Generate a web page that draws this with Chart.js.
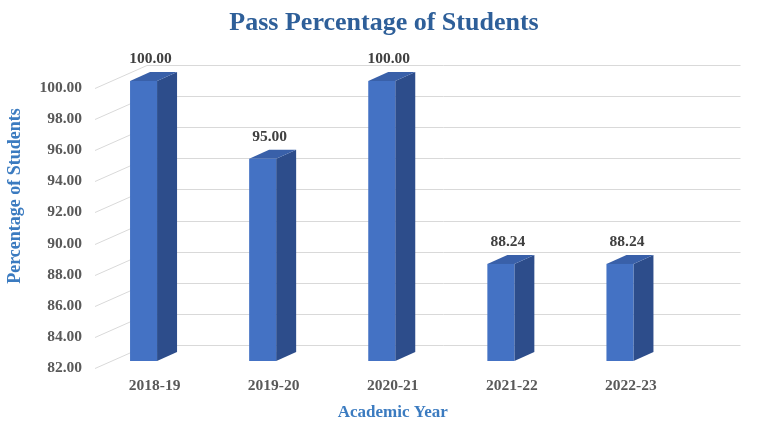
<!DOCTYPE html>
<html>
<head>
<meta charset="utf-8">
<script src="https://cdn.jsdelivr.net/npm/chart.js@4/dist/chart.umd.min.js"></script>
<style>
  html,body{margin:0;padding:0;background:#fff;}
  #wrap{width:768px;height:433px;}
</style>
</head>
<body>
<div id="wrap"><canvas id="c" width="768" height="433"></canvas></div>
<script>
const categories = ['2018-19', '2019-20', '2020-21', '2021-22', '2022-23'];
const passPercentage = [100.00, 95.00, 100.00, 88.24, 88.24];
const yTickMin = 82;
const yTickMax = 100;
const yTickStep = 2;

const FONT = "'Liberation Serif', 'Times New Roman', serif";
const WALL_DX = 52, WALL_DY = -23;   // back wall offset
const BAR_DY = -7;                   // bar front plane offset
const BAR_W = 27, SIDE_DX = 20, SIDE_DY = -9;

const threeD = {
  id: 'threeD',
  beforeDatasetsDraw(chart) {
    const {ctx, chartArea: a, scales: {y}} = chart;
    ctx.save();
    ctx.strokeStyle = '#d9d9d9';
    ctx.lineWidth = 1;
    y.ticks.forEach(t => {
      const py = Math.round(y.getPixelForValue(t.value)) + 0.5;
      ctx.beginPath();
      ctx.moveTo(a.left, py);
      ctx.lineTo(a.left + WALL_DX, py + WALL_DY);
      ctx.lineTo(a.right + 50, py + WALL_DY);
      ctx.stroke();
    });
    ctx.restore();
  },
  afterDatasetsDraw(chart) {
    const {ctx, scales: {y}} = chart;
    const meta = chart.getDatasetMeta(0);
    const basePx = y.getPixelForValue(y.min);
    ctx.save();
    meta.data.forEach((el, i) => {
      const cx = el.x;
      const top = el.y + BAR_DY;
      const base = basePx + BAR_DY;
      const fl = cx - 24.5, fr = fl + BAR_W;
      // side
      ctx.fillStyle = '#2d4d8b';
      ctx.beginPath();
      ctx.moveTo(fr, top); ctx.lineTo(fr + SIDE_DX, top + SIDE_DY);
      ctx.lineTo(fr + SIDE_DX, base + SIDE_DY); ctx.lineTo(fr, base);
      ctx.closePath(); ctx.fill();
      // top
      ctx.fillStyle = '#3960a9';
      ctx.beginPath();
      ctx.moveTo(fl, top); ctx.lineTo(fl + SIDE_DX, top + SIDE_DY);
      ctx.lineTo(fr + SIDE_DX, top + SIDE_DY); ctx.lineTo(fr, top);
      ctx.closePath(); ctx.fill();
      // front
      ctx.fillStyle = '#4472c4';
      ctx.fillRect(fl, top, BAR_W, base - top);
      // data label
      ctx.fillStyle = '#404040';
      ctx.font = 'bold 15.5px ' + FONT;
      ctx.textAlign = 'center';
      ctx.textBaseline = 'middle';
      ctx.fillText(passPercentage[i].toFixed(2), cx - 4, top - 22);
    });
    // y axis title
    ctx.fillStyle = '#3b7bc0';
    ctx.font = 'bold 18px ' + FONT;
    ctx.translate(15, 196);
    ctx.rotate(-Math.PI / 2);
    ctx.textAlign = 'center';
    ctx.textBaseline = 'middle';
    ctx.fillText('Percentage of Students', 0, 0);
    ctx.restore();
  }
};

new Chart(document.getElementById('c'), {
  type: 'bar',
  data: {
    labels: categories,
    datasets: [{
      data: passPercentage,
      backgroundColor: 'rgba(0,0,0,0)',
      borderWidth: 0,
      barThickness: BAR_W,
      yAxisID: 'y'
    }]
  },
  options: {
    responsive: false,
    animation: false,
    layout: {padding: 0},
    plugins: {
      legend: {display: false},
      tooltip: {enabled: false},
      title: {
        display: true,
        text: 'Pass Percentage of Students',
        color: '#2e5f99',
        font: {family: FONT, size: 26, weight: 'bold', lineHeight: 1.2},
        padding: {top: 8, bottom: 48.8}
      }
    },
    scales: {
      x: {
        grid: {display: false, drawTicks: false, tickLength: 0},
        border: {display: false},
        ticks: {color: '#595959', font: {family: FONT, size: 15.5, weight: 'bold'}, padding: 9, maxRotation: 0},
        title: {
          display: true, text: 'Academic Year', color: '#3b7bc0',
          font: {family: FONT, size: 17, weight: 'bold', lineHeight: 1.2},
          padding: {top: 0, bottom: 10}
        },
        afterFit(s) { s.height = 65; }
      },
      y: {
        position: 'left',
        min: yTickMin, max: yTickMax,
        grid: {display: false, drawTicks: false, tickLength: 0},
        border: {display: false},
        ticks: {
          stepSize: yTickStep, color: '#595959', padding: 13,
          font: {family: FONT, size: 15.5, weight: 'bold'},
          callback: v => Number(v).toFixed(2)
        },
        afterFit(s) { s.width = 95; }
      },
      yRight: {
        position: 'right',
        min: yTickMin, max: yTickMax,
        grid: {display: false, drawTicks: false, tickLength: 0},
        border: {display: false},
        ticks: {display: false},
        afterFit(s) { s.width = 77.5; }
      }
    }
  },
  plugins: [threeD]
});
</script>
</body>
</html>
